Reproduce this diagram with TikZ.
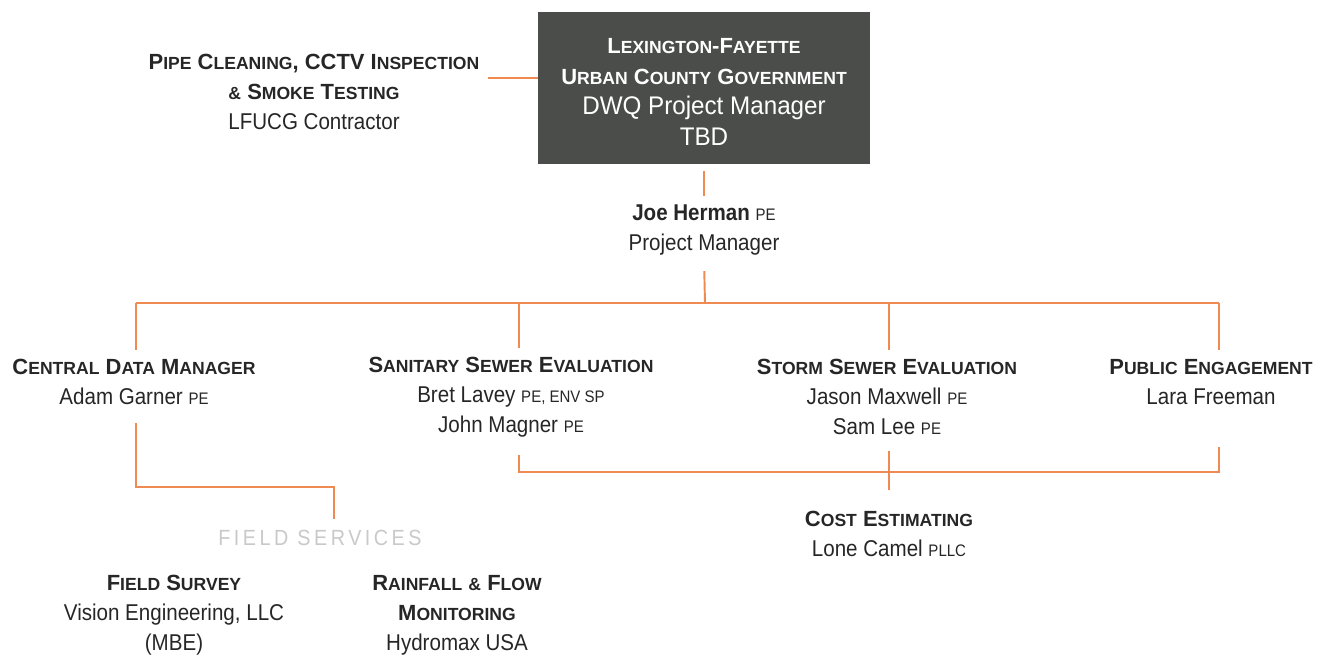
\documentclass[tikz,border=0pt]{standalone}
\usepackage{fontspec}
\setmainfont{Liberation Sans}[FakeStretch=0.9]
\newfontfamily\capsfont{Liberation Sans}
\newfontfamily\boxfont{Liberation Sans}[FakeStretch=0.95]
\newfontfamily\spacedfont{Liberation Sans}[LetterSpace=16, FakeStretch=0.9]
\usetikzlibrary{positioning}
\definecolor{ink}{HTML}{262626}
\definecolor{wire}{HTML}{EF8A52}
\definecolor{slate}{HTML}{4B4D4B}
\definecolor{faint}{HTML}{C9C9C9}
\newcommand{\sm}[1]{{\fontsize{10}{17}\selectfont #1}}
\newcommand{\cred}[1]{{\fontsize{9.5}{17}\selectfont #1}}
\newcommand{\hd}[1]{{\capsfont\bfseries\fontsize{12.5}{17}\selectfont #1}}
\tikzset{role/.style={align=center, text=ink, inner sep=2pt, font=\fontsize{13}{17}\selectfont}}
\tikzset{govbox/.style={fill=slate, text=white, align=center, inner sep=0pt, minimum width=6.64cm, minimum height=3.06cm, font=\boxfont\fontsize{14.5}{17.5}\selectfont}}
\tikzset{link/.style={draw=wire, line width=1.1pt}}
\begin{document}
\begin{tikzpicture}[x=0.02cm, y=-0.02cm]
\useasboundingbox (0,0) rectangle (1325,663);
% client and contractor
\node[govbox] (gov) at (704,88) {\rule{0pt}{13pt}\hd{L\sm{EXINGTON}-F\sm{AYETTE}}\\
	\hd{U\sm{RBAN} C\sm{OUNTY} G\sm{OVERNMENT}}\\ DWQ Project Manager\\ TBD};
\node[role] (pipe) at (314,92) {\hd{P\sm{IPE} C\sm{LEANING}, CCTV I\sm{NSPECTION}}\\
	\hd{\sm{\&} S\sm{MOKE} T\sm{ESTING}}\\ LFUCG Contractor};
\node[role, below=0.72cm of gov] (joe) {{\bfseries Joe Herman} \cred{PE}\\ Project Manager};
%
\node[role] (cdm) at (134,382) {\hd{C\sm{ENTRAL} D\sm{ATA} M\sm{ANAGER}}\\ Adam Garner \cred{PE}};
\node[role] (sse) at (511,397) {\hd{S\sm{ANITARY} S\sm{EWER} E\sm{VALUATION}}\\
	Bret Lavey \cred{PE, ENV SP}\\ John Magner \cred{PE}};
\node[role] (ssw) at (887,397) {\hd{S\sm{TORM} S\sm{EWER} E\sm{VALUATION}}\\
	Jason Maxwell \cred{PE}\\ Sam Lee \cred{PE}};
\node[role] (pub) at (1211,382) {\hd{P\sm{UBLIC} E\sm{NGAGEMENT}}\\ Lara Freeman};
\node[role] (cost) at (889,534) {\hd{C\sm{OST} E\sm{STIMATING}}\\ Lone Camel \cred{PLLC}};
%
\node[role, text=faint, font=\spacedfont\fontsize{12.5}{17}\selectfont] (fsv) at (320,538) {FIELD SERVICES};
\node[role] (fsu) at (174,615) {\hd{F\sm{IELD} S\sm{URVEY}}\\ Vision Engineering, LLC\\ (MBE)};
\node[role] (rfm) at (457,615) {\hd{R\sm{AINFALL} \sm{\&} F\sm{LOW}}\\ \hd{M\sm{ONITORING}}\\ Hydromax USA};
% connectors
\coordinate (bus) at (705,303);
\coordinate (cbus) at (889,472);
\coordinate (fbus) at (334,487);
\draw[link] ([xshift=3pt]pipe.east |- 0,78) -- (gov.west |- 0,78);
\draw[link, shorten <=3.5pt, shorten >=3pt] (gov.south) -- (joe.north);
\draw[link, shorten <=7pt] (joe.south) -- (bus);
\draw[link] (136,303) -- (1219,303);
\foreach \n/\x in {cdm/136, sse/519, ssw/889, pub/1219}
	\draw[link, shorten >=3pt] (\x,303) -- (\x,303 |- \n.north);
\draw[link, shorten <=8pt] (519,0 |- sse.south) |- (cbus) -| (1219,447);
\draw[link, shorten <=7pt, shorten >=10pt] (889,0 |- ssw.south) -- (889,0 |- cost.north);
\draw[link, shorten <=8pt, shorten >=4pt] (136,0 |- cdm.south) |- (fbus) -- (fbus |- fsv.north);
\end{tikzpicture}
\end{document}
